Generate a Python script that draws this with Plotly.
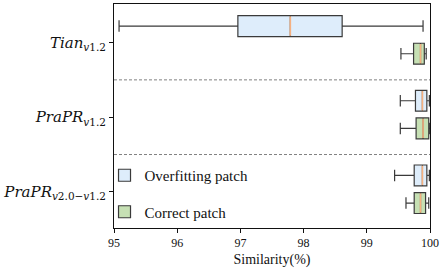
import plotly.graph_objects as go

# ---- data (summary statistics) ----
groups = ["Tian", "PraPR_v1.2", "PraPR_v2.0-v1.2"]
group_pos = [1, 2, 3]
tick_labels = [
    "<i>Tian</i><sub><i>v</i>1.2</sub>",
    "<i>PraPR</i><sub><i>v</i>1.2</sub>",
    "<i>PraPR</i><sub><i>v</i>2.0\u2212<i>v</i>1.2</sub>",
]

ovf_low = [95.08, 99.53, 99.44]
ovf_q1 = [96.96, 99.77, 99.75]
ovf_med = [97.79, 99.88, 99.88]
ovf_q3 = [98.61, 99.95, 99.95]
ovf_high = [99.89, 99.99, 99.99]

cor_low = [99.54, 99.53, 99.62]
cor_q1 = [99.74, 99.78, 99.75]
cor_med = [99.85, 99.89, 99.85]
cor_q3 = [99.91, 99.98, 99.93]
cor_high = [99.94, 100.0, 99.98]

ovf_offset = -0.22
cor_offset = 0.15
box_w = 0.28

serif = "Liberation Serif"
math_font = "DejaVu Serif"
edge = "#3a3a3a"
ovf_fill = "#deedfb"
cor_fill = "#c6e0b4"
med_color = "#f5b080"

ovf_y = [g + ovf_offset for g in group_pos]
cor_y = [g + cor_offset for g in group_pos]

fig = go.Figure()

def add_boxes(name, ypos, low, q1, med, q3, high, fill, grp):
    fig.add_trace(go.Box(
        name=name, orientation="h", y=ypos,
        lowerfence=low, q1=q1, median=med, q3=q3, upperfence=high,
        width=box_w, whiskerwidth=0.55,
        fillcolor=fill, line=dict(color=edge, width=1.2),
        legendgroup=grp, boxpoints=False, hoverinfo="skip",
    ))
    mx, my = [], []
    for m, p in zip(med, ypos):
        mx += [m, m, None]
        my += [p - box_w / 2 + 0.01, p + box_w / 2 - 0.01, None]
    fig.add_trace(go.Scatter(
        x=mx, y=my, mode="lines", line=dict(color=med_color, width=1.6),
        showlegend=False, hoverinfo="skip", legendgroup=grp,
    ))

add_boxes("Overfitting patch", ovf_y, ovf_low, ovf_q1, ovf_med, ovf_q3, ovf_high, ovf_fill, "a")
add_boxes("Correct patch", cor_y, cor_low, cor_q1, cor_med, cor_q3, cor_high, cor_fill, "b")

for yv in [1.5, 2.5]:
    fig.add_shape(type="line", xref="paper", x0=0, x1=1, yref="y", y0=yv, y1=yv,
                  line=dict(color="#808080", width=1, dash="3px,2px"), layer="below")

fig.update_layout(
    width=442, height=269,
    margin=dict(l=109, r=9, t=3, b=41),
    paper_bgcolor="white", plot_bgcolor="white",
    boxmode="overlay",
    font=dict(family=serif, color="#111111"),
    legend=dict(x=-0.03, y=0.0, xanchor="left", yanchor="bottom",
                bgcolor="rgba(0,0,0,0)", font=dict(size=15, family=serif),
                tracegroupgap=14, traceorder="grouped"),
    xaxis=dict(range=[95, 100], tickvals=[95, 96, 97, 98, 99, 100],
               ticks="outside", ticklen=4, tickcolor="#111",
               showline=True, linecolor="#111", linewidth=1, mirror=True,
               showgrid=False, zeroline=False,
               tickfont=dict(size=12, family=serif),
               title=dict(text="Similarity(%)", font=dict(size=14, family=serif), standoff=4)),
    yaxis=dict(range=[3.484, 0.484], tickvals=group_pos, ticktext=tick_labels,
               ticks="outside", ticklen=4, tickcolor="#111",
               showline=True, linecolor="#111", linewidth=1, mirror=True,
               showgrid=False, zeroline=False,
               tickfont=dict(size=15, family=math_font)),
)

fig.write_html("out.html", config={"displayModeBar": False},
               post_script="document.body.style.margin='0';document.body.style.overflow='hidden';")
